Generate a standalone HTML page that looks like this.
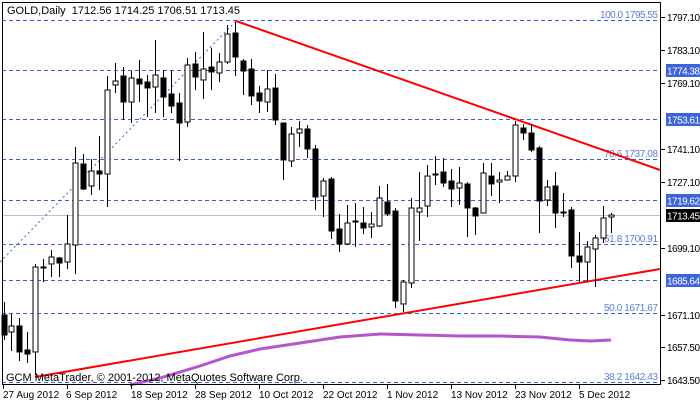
<!DOCTYPE html>
<html><head><meta charset="utf-8"><style>
html,body{margin:0;padding:0;background:#fff;}
svg{display:block;font-family:"Liberation Sans",sans-serif;}
</style></head><body>
<svg width="700" height="402" viewBox="0 0 700 402" xmlns="http://www.w3.org/2000/svg">
<rect width="700" height="402" fill="#fff"/>
<g stroke="#3a5fd8" stroke-width="1" stroke-dasharray="4,3" fill="none">
<line x1="2" y1="20.5" x2="660" y2="20.5"/>
<line x1="2" y1="70.5" x2="660" y2="70.5"/>
<line x1="2" y1="119.5" x2="660" y2="119.5"/>
<line x1="2" y1="159.5" x2="660" y2="159.5"/>
<line x1="2" y1="200.5" x2="660" y2="200.5"/>
<line x1="2" y1="244.5" x2="660" y2="244.5"/>
<line x1="2" y1="280.5" x2="660" y2="280.5"/>
<line x1="2" y1="313.5" x2="660" y2="313.5"/>
<line x1="2" y1="382.5" x2="660" y2="382.5"/>
</g>
<line x1="2" y1="215.5" x2="660" y2="215.5" stroke="#c0c0c0"/>
<line x1="0" y1="262" x2="236" y2="21" stroke="#3a5fd8" stroke-dasharray="2,3"/>
<g fill="#5a7de0" font-size="10" text-anchor="end">
<text x="658" y="18" textLength="58">100.0 1795.55</text>
<text x="658" y="157" textLength="54">78.6 1737.08</text>
<text x="658" y="242" textLength="54">61.8 1700.91</text>
<text x="658" y="311" textLength="54">50.0 1671.67</text>
<text x="658" y="380" textLength="54">38.2 1642.43</text>
</g>
<polyline points="130,385 160,378 200,366 230,356 260,349 300,343 340,337 380,334 420,335 460,336 500,336 540,337 570,340 590,341 611,340" fill="none" stroke="#b455cf" stroke-width="3"/>
<line x1="236" y1="21" x2="660" y2="170" stroke="#f00" stroke-width="2"/>
<line x1="35" y1="377" x2="660" y2="269" stroke="#f00" stroke-width="2"/>
<g stroke="#000" stroke-width="1">
<line x1="4.5" y1="302" x2="4.5" y2="340"/><rect x="2" y="315" width="5" height="20" fill="#000"/>
<line x1="11.5" y1="314" x2="11.5" y2="351"/><rect x="9" y="326" width="5" height="6" fill="#fff"/>
<line x1="19.5" y1="318" x2="19.5" y2="361"/><rect x="17" y="326" width="5" height="26" fill="#000"/>
<line x1="27.5" y1="332" x2="27.5" y2="363"/><rect x="25" y="350" width="5" height="4" fill="#000"/>
<line x1="35.5" y1="264" x2="35.5" y2="375"/><rect x="33" y="267" width="5" height="85" fill="#fff"/>
<line x1="43.5" y1="259" x2="43.5" y2="282"/><rect x="41" y="267" width="5" height="1" fill="#000"/>
<line x1="51.5" y1="250" x2="51.5" y2="277"/><rect x="49" y="257" width="5" height="7" fill="#fff"/>
<line x1="59.5" y1="257" x2="59.5" y2="277"/><rect x="57" y="258" width="5" height="5" fill="#000"/>
<line x1="67.5" y1="215" x2="67.5" y2="269"/><rect x="65" y="244" width="5" height="18" fill="#fff"/>
<line x1="75.5" y1="147" x2="75.5" y2="274"/><rect x="73" y="163" width="5" height="82" fill="#fff"/>
<line x1="83.5" y1="154" x2="83.5" y2="190"/><rect x="81" y="164" width="5" height="25" fill="#000"/>
<line x1="91.5" y1="159" x2="91.5" y2="195"/><rect x="89" y="171" width="5" height="15" fill="#fff"/>
<line x1="99.5" y1="136" x2="99.5" y2="190"/><rect x="97" y="171" width="5" height="3" fill="#000"/>
<line x1="107.5" y1="76" x2="107.5" y2="207"/><rect x="105" y="90" width="5" height="84" fill="#fff"/>
<line x1="115.5" y1="63" x2="115.5" y2="93"/><rect x="113" y="81" width="5" height="4" fill="#fff"/>
<line x1="123.5" y1="67" x2="123.5" y2="120"/><rect x="121" y="76" width="5" height="26" fill="#000"/>
<line x1="131.5" y1="71" x2="131.5" y2="123"/><rect x="129" y="78" width="5" height="24" fill="#fff"/>
<line x1="139.5" y1="60" x2="139.5" y2="102"/><rect x="137" y="79" width="5" height="5" fill="#000"/>
<line x1="147.5" y1="75" x2="147.5" y2="117"/><rect x="145" y="82" width="5" height="6" fill="#000"/>
<line x1="155.5" y1="40" x2="155.5" y2="113"/><rect x="153" y="75" width="5" height="12" fill="#fff"/>
<line x1="163.5" y1="70" x2="163.5" y2="117"/><rect x="161" y="78" width="5" height="19" fill="#000"/>
<line x1="171.5" y1="70" x2="171.5" y2="113"/><rect x="169" y="94" width="5" height="12" fill="#000"/>
<line x1="179.5" y1="93" x2="179.5" y2="161"/><rect x="177" y="103" width="5" height="20" fill="#000"/>
<line x1="187.5" y1="58" x2="187.5" y2="127"/><rect x="185" y="65" width="5" height="57" fill="#fff"/>
<line x1="195.5" y1="52" x2="195.5" y2="90"/><rect x="193" y="64" width="5" height="13" fill="#000"/>
<line x1="203.5" y1="32" x2="203.5" y2="99"/><rect x="201" y="69" width="5" height="11" fill="#fff"/>
<line x1="211.5" y1="48" x2="211.5" y2="90"/><rect x="209" y="67" width="5" height="5" fill="#000"/>
<line x1="219.5" y1="53" x2="219.5" y2="82"/><rect x="217" y="62" width="5" height="11" fill="#fff"/>
<line x1="227.5" y1="25" x2="227.5" y2="64"/><rect x="225" y="34" width="5" height="28" fill="#fff"/>
<line x1="235.5" y1="22" x2="235.5" y2="76"/><rect x="233" y="33" width="5" height="24" fill="#000"/>
<line x1="243.5" y1="59" x2="243.5" y2="95"/><rect x="241" y="61" width="5" height="10" fill="#000"/>
<line x1="251.5" y1="59" x2="251.5" y2="105"/><rect x="249" y="69" width="5" height="27" fill="#000"/>
<line x1="259.5" y1="86" x2="259.5" y2="113"/><rect x="257" y="93" width="5" height="8" fill="#000"/>
<line x1="267.5" y1="70" x2="267.5" y2="112"/><rect x="265" y="89" width="5" height="13" fill="#fff"/>
<line x1="275.5" y1="74" x2="275.5" y2="125"/><rect x="273" y="88" width="5" height="32" fill="#000"/>
<line x1="283.5" y1="123" x2="283.5" y2="180"/><rect x="281" y="123" width="5" height="37" fill="#000"/>
<line x1="291.5" y1="127" x2="291.5" y2="167"/><rect x="289" y="134" width="5" height="27" fill="#fff"/>
<line x1="299.5" y1="121" x2="299.5" y2="147"/><rect x="297" y="129" width="5" height="4" fill="#fff"/>
<line x1="307.5" y1="125" x2="307.5" y2="158"/><rect x="305" y="129" width="5" height="20" fill="#000"/>
<line x1="315.5" y1="145" x2="315.5" y2="210"/><rect x="313" y="149" width="5" height="48" fill="#000"/>
<line x1="323.5" y1="178" x2="323.5" y2="217"/><rect x="321" y="181" width="5" height="15" fill="#fff"/>
<line x1="331.5" y1="177" x2="331.5" y2="239"/><rect x="329" y="179" width="5" height="52" fill="#000"/>
<line x1="339.5" y1="214" x2="339.5" y2="252"/><rect x="337" y="229" width="5" height="15" fill="#000"/>
<line x1="347.5" y1="205" x2="347.5" y2="245"/><rect x="345" y="223" width="5" height="21" fill="#fff"/>
<line x1="355.5" y1="203" x2="355.5" y2="247"/><rect x="353" y="221" width="5" height="1" fill="#000"/>
<line x1="363.5" y1="207" x2="363.5" y2="234"/><rect x="361" y="223" width="5" height="5" fill="#000"/>
<line x1="371.5" y1="212" x2="371.5" y2="238"/><rect x="369" y="224" width="5" height="3" fill="#fff"/>
<line x1="379.5" y1="186" x2="379.5" y2="227"/><rect x="377" y="198" width="5" height="28" fill="#fff"/>
<line x1="387.5" y1="184" x2="387.5" y2="216"/><rect x="385" y="202" width="5" height="12" fill="#000"/>
<line x1="395.5" y1="208" x2="395.5" y2="308"/><rect x="393" y="211" width="5" height="90" fill="#000"/>
<line x1="403.5" y1="280" x2="403.5" y2="312"/><rect x="401" y="282" width="5" height="22" fill="#fff"/>
<line x1="411.5" y1="198" x2="411.5" y2="288"/><rect x="409" y="208" width="5" height="75" fill="#fff"/>
<line x1="419.5" y1="172" x2="419.5" y2="241"/><rect x="417" y="208" width="5" height="4" fill="#fff"/>
<line x1="427.5" y1="165" x2="427.5" y2="217"/><rect x="425" y="176" width="5" height="30" fill="#fff"/>
<line x1="435.5" y1="156" x2="435.5" y2="185"/><rect x="433" y="174" width="5" height="1" fill="#000"/>
<line x1="443.5" y1="158" x2="443.5" y2="187"/><rect x="441" y="172" width="5" height="11" fill="#000"/>
<line x1="451.5" y1="169" x2="451.5" y2="207"/><rect x="449" y="181" width="5" height="8" fill="#000"/>
<line x1="459.5" y1="167" x2="459.5" y2="205"/><rect x="457" y="183" width="5" height="5" fill="#fff"/>
<line x1="467.5" y1="182" x2="467.5" y2="237"/><rect x="465" y="184" width="5" height="24" fill="#000"/>
<line x1="475.5" y1="207" x2="475.5" y2="235"/><rect x="473" y="208" width="5" height="8" fill="#000"/>
<line x1="483.5" y1="163" x2="483.5" y2="213"/><rect x="481" y="173" width="5" height="40" fill="#fff"/>
<line x1="491.5" y1="163" x2="491.5" y2="196"/><rect x="489" y="176" width="5" height="8" fill="#000"/>
<line x1="499.5" y1="172" x2="499.5" y2="203"/><rect x="497" y="180" width="5" height="2" fill="#fff"/>
<line x1="507.5" y1="171" x2="507.5" y2="180"/><rect x="505" y="176" width="5" height="4" fill="#fff"/>
<line x1="515.5" y1="121" x2="515.5" y2="182"/><rect x="513" y="125" width="5" height="51" fill="#fff"/>
<line x1="523.5" y1="124" x2="523.5" y2="140"/><rect x="521" y="128" width="5" height="5" fill="#000"/>
<line x1="531.5" y1="124" x2="531.5" y2="152"/><rect x="529" y="133" width="5" height="17" fill="#000"/>
<line x1="539.5" y1="146" x2="539.5" y2="233"/><rect x="537" y="148" width="5" height="53" fill="#000"/>
<line x1="547.5" y1="180" x2="547.5" y2="206"/><rect x="545" y="187" width="5" height="13" fill="#fff"/>
<line x1="555.5" y1="172" x2="555.5" y2="228"/><rect x="553" y="186" width="5" height="27" fill="#000"/>
<line x1="563.5" y1="193" x2="563.5" y2="217"/><rect x="561" y="212" width="5" height="1" fill="#000"/>
<line x1="571.5" y1="207" x2="571.5" y2="268"/><rect x="569" y="210" width="5" height="46" fill="#000"/>
<line x1="579.5" y1="232" x2="579.5" y2="282"/><rect x="577" y="256" width="5" height="6" fill="#000"/>
<line x1="587.5" y1="241" x2="587.5" y2="282"/><rect x="585" y="247" width="5" height="15" fill="#fff"/>
<line x1="595.5" y1="235" x2="595.5" y2="287"/><rect x="593" y="238" width="5" height="11" fill="#fff"/>
<line x1="603.5" y1="206" x2="603.5" y2="243"/><rect x="601" y="218" width="5" height="20" fill="#fff"/>
<line x1="611.5" y1="213" x2="611.5" y2="233"/><rect x="609" y="215" width="5" height="2" fill="#fff"/>
</g>
<rect x="2.5" y="2.5" width="658" height="382" fill="none" stroke="#000"/>
<text x="7" y="14" font-size="11" fill="#000" xml:space="preserve">GOLD,Daily  1712.56 1714.25 1706.51 1713.45</text>
<text x="6" y="381" font-size="11" fill="#000">GCM MetaTrader, © 2001-2012, MetaQuotes Software Corp.</text>
<g stroke="#000">
<line x1="661" y1="17.5" x2="665" y2="17.5"/><line x1="661" y1="50.5" x2="665" y2="50.5"/>
<line x1="661" y1="83.5" x2="665" y2="83.5"/><line x1="661" y1="149.5" x2="665" y2="149.5"/>
<line x1="661" y1="182.5" x2="665" y2="182.5"/><line x1="661" y1="248.5" x2="665" y2="248.5"/>
<line x1="661" y1="315.5" x2="665" y2="315.5"/><line x1="661" y1="347.5" x2="665" y2="347.5"/>
<line x1="661" y1="380.5" x2="665" y2="380.5"/>
</g>
<g font-size="10" fill="#000">
<text x="667" y="21" textLength="33">1797.10</text><text x="667" y="54" textLength="33">1783.10</text>
<text x="667" y="87" textLength="33">1769.10</text><text x="667" y="153" textLength="33">1741.10</text>
<text x="667" y="186" textLength="33">1727.10</text><text x="667" y="252" textLength="33">1699.10</text>
<text x="667" y="319" textLength="33">1671.10</text><text x="667" y="351" textLength="33">1657.50</text>
<text x="667" y="384" textLength="33">1643.50</text>
</g>
<g font-size="10" fill="#fff">
<rect x="666" y="64" width="34" height="13" fill="#3c64d8"/><text x="667" y="74.5" textLength="33">1774.38</text>
<rect x="666" y="113" width="34" height="13" fill="#3c64d8"/><text x="667" y="123.5" textLength="33">1753.61</text>
<rect x="666" y="194" width="34" height="13" fill="#3c64d8"/><text x="667" y="204.5" textLength="33">1719.62</text>
<rect x="666" y="209" width="34" height="13" fill="#000"/><text x="667" y="219.5" textLength="33">1713.45</text>
<rect x="666" y="274" width="34" height="13" fill="#3c64d8"/><text x="667" y="284.5" textLength="33">1685.64</text>
</g>
<g stroke="#000">
<line x1="3.5" y1="385" x2="3.5" y2="389"/><line x1="67.5" y1="385" x2="67.5" y2="389"/>
<line x1="131.5" y1="385" x2="131.5" y2="389"/><line x1="195.5" y1="385" x2="195.5" y2="389"/>
<line x1="259.5" y1="385" x2="259.5" y2="389"/><line x1="323.5" y1="385" x2="323.5" y2="389"/>
<line x1="387.5" y1="385" x2="387.5" y2="389"/><line x1="451.5" y1="385" x2="451.5" y2="389"/>
<line x1="515.5" y1="385" x2="515.5" y2="389"/><line x1="579.5" y1="385" x2="579.5" y2="389"/>
</g>
<g font-size="10" fill="#000">
<text x="3" y="398">27 Aug 2012</text><text x="66" y="398">6 Sep 2012</text>
<text x="131" y="398">18 Sep 2012</text><text x="195" y="398">28 Sep 2012</text>
<text x="259" y="398">10 Oct 2012</text><text x="323" y="398">22 Oct 2012</text>
<text x="387" y="398">1 Nov 2012</text><text x="451" y="398">13 Nov 2012</text>
<text x="515" y="398">23 Nov 2012</text><text x="579" y="398">5 Dec 2012</text>
</g>
</svg>
</body></html>
